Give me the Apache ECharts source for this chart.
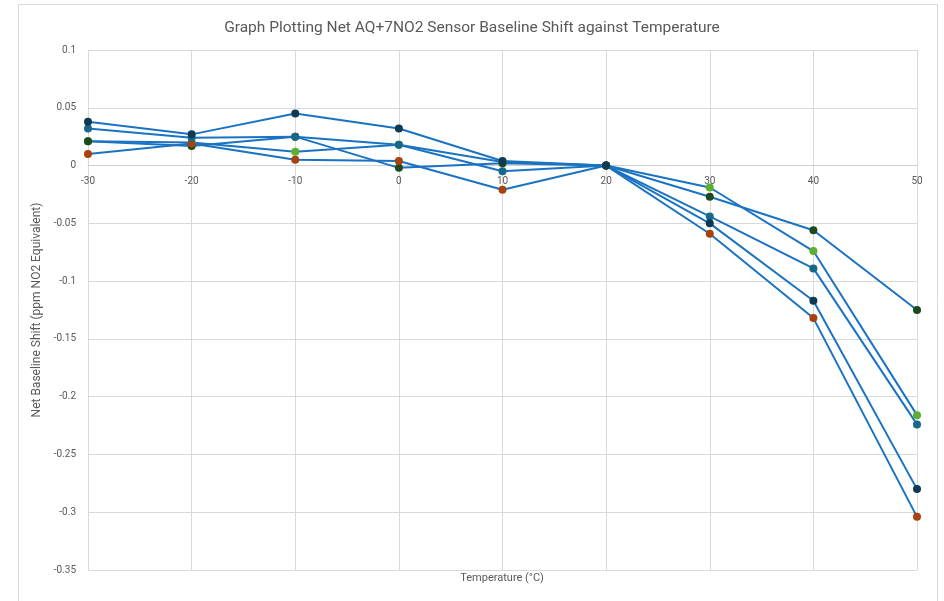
<!DOCTYPE html>
<html>
<head>
<meta charset="utf-8">
<script src="https://cdn.jsdelivr.net/npm/echarts@6/dist/echarts.min.js"></script>
<style>html,body{margin:0;padding:0;background:#fff}#c{width:944px;height:601px}</style>
</head>
<body>
<div id="c"></div>
<script>
const temperatures = [-30, -20, -10, 0, 10, 20, 30, 40, 50];
const sensorNavy  = [0.038, 0.027, 0.045, 0.032, 0.004, 0, -0.050, -0.117, -0.280];
const sensorTeal  = [0.032, 0.024, 0.025, 0.018, -0.005, 0, -0.044, -0.089, -0.224];
const sensorLight = [0.021, 0.020, 0.012, 0.018, 0.003, 0, -0.019, -0.074, -0.216];
const sensorDark  = [0.021, 0.017, 0.025, -0.002, 0.002, 0, -0.027, -0.056, -0.125];
const sensorBrown = [0.010, 0.019, 0.005, 0.004, -0.021, 0, -0.059, -0.132, -0.304];

const seriesDefs = [
  {name: 'S1', data: sensorLight, color: '#5bb030'},
  {name: 'S2', data: sensorDark, color: '#1c4a1c'},
  {name: 'S3', data: sensorBrown, color: '#a8420f'},
  {name: 'S4', data: sensorTeal, color: '#16698a'},
  {name: 'S5', data: sensorNavy, color: '#0f3a52'}
];

const lineColor = '#1a73c2';
const textColor = '#595959';
const font = 'Roboto, sans-serif';

const yMin = -0.35, yMax = 0.1;
const gridTop = 50, gridBottom = 31, chartH = 601;
const plotH = chartH - gridTop - gridBottom;
const zeroOffset = (0 - yMin) / (yMax - yMin) * plotH;

const chart = echarts.init(document.getElementById('c'));
chart.setOption({
  animation: false,
  title: {
    text: 'Graph Plotting Net AQ+7NO2 Sensor Baseline Shift against Temperature',
    left: 'center', top: 15,
    textStyle: {fontSize: 15.5, fontWeight: 'normal', color: textColor, fontFamily: font}
  },
  graphic: [
    {type: 'rect', shape: {x: 18.5, y: 4.5, width: 919, height: 600}, style: {fill: 'none', stroke: '#d9d9d9', lineWidth: 1}, silent: true, z: -1},
    {type: 'text', x: 502, y: 573, style: {text: 'Temperature (°C)', fill: textColor, font: '11px ' + font, textAlign: 'center'}}
  ],
  grid: {left: 88, right: 27, top: gridTop, bottom: gridBottom, containLabel: false},
  xAxis: {
    type: 'value', min: -30, max: 50, interval: 10,
    offset: -zeroOffset,
    axisLine: {onZero: false, lineStyle: {color: '#d0d0d0'}},
    axisTick: {show: false},
    axisLabel: {color: textColor, fontSize: 10, fontFamily: font, margin: 11},
    splitLine: {show: true, lineStyle: {color: '#d9d9d9'}}
  },
  yAxis: {
    type: 'value', min: yMin, max: yMax, interval: 0.05,
    name: 'Net Baseline Shift (ppm NO2 Equivalent)',
    nameLocation: 'middle', nameGap: 42,
    nameTextStyle: {color: textColor, fontSize: 12, fontFamily: font},
    axisLine: {show: false},
    axisTick: {show: false},
    axisLabel: {color: textColor, fontSize: 10, fontFamily: font, margin: 12,
      formatter: v => String(parseFloat(v.toFixed(2)))},
    splitLine: {show: true, lineStyle: {color: '#d9d9d9'}}
  },
  series: seriesDefs.map(s => ({
    name: s.name,
    type: 'line',
    data: temperatures.map((t, i) => [t, s.data[i]]),
    symbol: 'circle', symbolSize: 8,
    itemStyle: {color: s.color},
    lineStyle: {color: lineColor, width: 2},
    emphasis: {disabled: true}
  }))
});
</script>
</body>
</html>
